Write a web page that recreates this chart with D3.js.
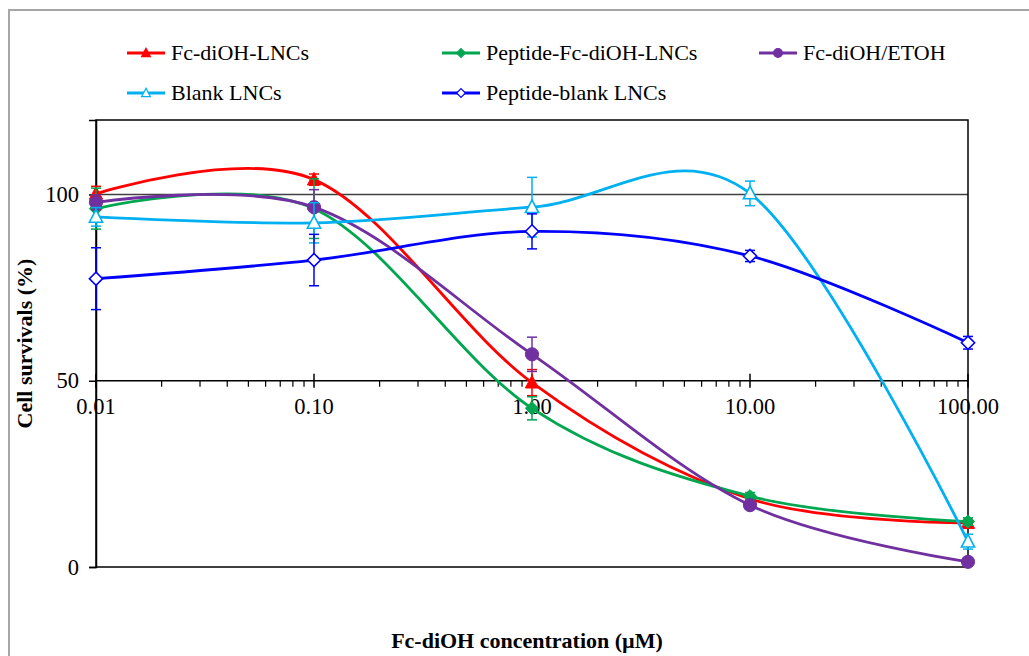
<!DOCTYPE html>
<html>
<head>
<meta charset="utf-8">
<script src="https://cdn.jsdelivr.net/npm/d3@7"></script>
<style>
  body { margin: 0; background: #fff; }
  text { font-family: "Liberation Serif", "Times New Roman", serif; fill: #000; }
</style>
</head>
<body>
<script>
// concentrations (uM) and survival (%) per formulation
var conc = [0.01, 0.1, 1, 10, 100];

var fcLNCs      = [100.2, 104.0, 49.5, 18.3, 11.8];
var fcLNCsErr   = [2.0, 1.5, 3.5, 1.0, 1.0];
var pepFcLNCs    = [96.2, 96.2, 42.6, 19.0, 12.2];
var pepFcLNCsErr = [5.5, 8.0, 3.1, 1.0, 1.0];
var fcEtoh      = [97.9, 96.6, 57.1, 16.6, 1.4];
var fcEtohErr   = [2.0, 4.7, 4.6, 1.0, 0.5];
var blankLNCs    = [94.0, 92.4, 96.6, 100.3, 6.8];
var blankLNCsErr = [2.5, 5.4, 8.0, 3.3, 2.0];
var pepBlank    = [77.4, 82.4, 90.1, 83.5, 60.2];
var pepBlankErr = [8.3, 6.9, 4.7, 1.5, 1.7];

var xTicks = [0.01, 0.1, 1, 10, 100];
var yTicks = [0, 50, 100];

var series = [
  { name: 'Fc-diOH-LNCs', vals: fcLNCs, err: fcLNCsErr, color: '#ff0000', shape: 'tri', fill: true },
  { name: 'Peptide-Fc-diOH-LNCs', vals: pepFcLNCs, err: pepFcLNCsErr, color: '#00a650', shape: 'dia', fill: true },
  { name: 'Fc-diOH/ETOH', vals: fcEtoh, err: fcEtohErr, color: '#7030a0', shape: 'circ', fill: true },
  { name: 'Blank LNCs', vals: blankLNCs, err: blankLNCsErr, color: '#00b0f0', shape: 'tri', fill: false },
  { name: 'Peptide-blank LNCs', vals: pepBlank, err: pepBlankErr, color: '#0000ff', shape: 'dia', fill: false }
];

var W = 1029, H = 656;
var pLeft = 96, pRight = 968, pTop = 120, pBottom = 567;

var svg = d3.select('body').append('svg')
    .attr('width', W).attr('height', H);

// chart area frame
svg.append('rect')
    .attr('x', 9).attr('y', 10).attr('width', 1100).attr('height', 700)
    .attr('fill', 'none').attr('stroke', '#a6a6a6').attr('stroke-width', 2);

var x = d3.scaleLog().domain([0.01, 100]).range([pLeft, pRight]);
var y = d3.scaleLinear().domain([0, 120]).range([pBottom, pTop]);

// gridline at 100
svg.append('line')
    .attr('x1', pLeft).attr('x2', pRight)
    .attr('y1', y(100)).attr('y2', y(100))
    .attr('stroke', '#404040').attr('stroke-width', 1.5);

// plot border
svg.append('rect')
    .attr('x', pLeft).attr('y', pTop)
    .attr('width', pRight - pLeft).attr('height', pBottom - pTop)
    .attr('fill', 'none').attr('stroke', '#000').attr('stroke-width', 1.5);

// y axis
var yAxis = svg.append('g')
    .attr('transform', 'translate(' + pLeft + ',0)')
    .call(d3.axisLeft(y).tickValues(yTicks).tickSize(7).tickPadding(10).tickFormat(d3.format('d')));
yAxis.select('.domain').attr('stroke', '#000').attr('stroke-width', 1.5);
yAxis.selectAll('.tick line').attr('stroke', '#000').attr('stroke-width', 1.5);
yAxis.selectAll('.tick text')
    .style('font-family', '"Liberation Serif", serif').style('font-size', '22.5px').attr('fill', '#000');

// x axis crossing at 50
var xAxisY = y(50);
var xg = svg.append('g').attr('transform', 'translate(0,' + xAxisY + ')');
xg.append('line').attr('x1', pLeft).attr('x2', pRight)
    .attr('stroke', '#000').attr('stroke-width', 1.5);

var minor = [];
for (var e = -2; e < 2; e++) {
  for (var k = 2; k <= 9; k++) minor.push(k * Math.pow(10, e));
}
xg.selectAll('.minor').data(minor).enter().append('line')
    .attr('x1', function(d) { return x(d); }).attr('x2', function(d) { return x(d); })
    .attr('y1', 0).attr('y2', 6)
    .attr('stroke', '#000').attr('stroke-width', 1.2);
xg.selectAll('.major').data(xTicks).enter().append('line')
    .attr('x1', function(d) { return x(d); }).attr('x2', function(d) { return x(d); })
    .attr('y1', -7).attr('y2', 7)
    .attr('stroke', '#000').attr('stroke-width', 1.5);
xg.selectAll('.lbl').data(xTicks).enter().append('text')
    .attr('x', function(d) { return x(d); })
    .attr('y', 33)
    .attr('text-anchor', 'middle')
    .style('font-size', '22.5px')
    .text(function(d) { return d3.format('.2f')(d); });

// series
var line = d3.line()
    .x(function(d) { return x(d[0]); })
    .y(function(d) { return y(d[1]); })
    .curve(d3.curveCardinal.tension(0));

function marker(g, shape, size) {
  if (shape === 'tri') {
    var s = size;
    return g.append('path').attr('d', 'M0,' + (-s * 0.6) + 'L' + (s * 0.55) + ',' + (s * 0.45) + 'L' + (-s * 0.55) + ',' + (s * 0.45) + 'Z');
  } else if (shape === 'dia') {
    var h = size * 0.55;
    return g.append('path').attr('d', 'M0,' + (-h) + 'L' + h + ',0L0,' + h + 'L' + (-h) + ',0Z');
  }
  return g.append('circle').attr('r', size * 0.55);
}

series.forEach(function(s) {
  var pts = conc.map(function(c, i) { return [c, s.vals[i], s.err[i]]; });
  var g = svg.append('g');

  g.append('path').datum(pts)
      .attr('d', line)
      .attr('fill', 'none').attr('stroke', s.color).attr('stroke-width', 2.8);

  var eb = g.selectAll('.eb').data(pts).enter().append('g')
      .attr('stroke', s.color).attr('stroke-width', 1.5);
  eb.append('line')
      .attr('x1', function(d) { return x(d[0]); }).attr('x2', function(d) { return x(d[0]); })
      .attr('y1', function(d) { return y(d[1] + d[2]); }).attr('y2', function(d) { return y(d[1] - d[2]); });
  eb.append('line')
      .attr('x1', function(d) { return x(d[0]) - 5; }).attr('x2', function(d) { return x(d[0]) + 5; })
      .attr('y1', function(d) { return y(d[1] + d[2]); }).attr('y2', function(d) { return y(d[1] + d[2]); });
  eb.append('line')
      .attr('x1', function(d) { return x(d[0]) - 5; }).attr('x2', function(d) { return x(d[0]) + 5; })
      .attr('y1', function(d) { return y(d[1] - d[2]); }).attr('y2', function(d) { return y(d[1] - d[2]); });

  pts.forEach(function(d) {
    var mg = g.append('g').attr('transform', 'translate(' + x(d[0]) + ',' + y(d[1]) + ')');
    marker(mg, s.shape, 12)
        .attr('fill', s.fill ? s.color : '#fff')
        .attr('stroke', s.color).attr('stroke-width', s.fill ? 1 : 1.6);
  });
});

// legend
var legPos = [[127, 53], [442, 53], [759, 53], [127, 93], [442, 93]];
series.forEach(function(s, i) {
  var p = legPos[i];
  var lg = svg.append('g').attr('transform', 'translate(' + p[0] + ',' + p[1] + ')');
  lg.append('line').attr('x1', 0).attr('x2', 38).attr('y1', 0).attr('y2', 0)
      .attr('stroke', s.color).attr('stroke-width', 2.8);
  var mg = lg.append('g').attr('transform', 'translate(19,0)');
  marker(mg, s.shape, 8)
      .attr('fill', s.fill ? s.color : '#fff')
      .attr('stroke', s.color).attr('stroke-width', 1.2);
  lg.append('text').attr('x', 44).attr('y', 7)
      .style('font-size', '22px')
      .text(s.name);
});

// axis titles
svg.append('text')
    .attr('x', 527).attr('y', 648)
    .attr('text-anchor', 'middle')
    .style('font-size', '22px').style('font-weight', 'bold')
    .text('Fc-diOH concentration (µM)');

svg.append('text')
    .attr('transform', 'translate(32,' + ((pTop + pBottom) / 2) + ') rotate(-90)')
    .attr('text-anchor', 'middle')
    .style('font-size', '22px').style('font-weight', 'bold')
    .text('Cell survivals (%)');
</script>
</body>
</html>
